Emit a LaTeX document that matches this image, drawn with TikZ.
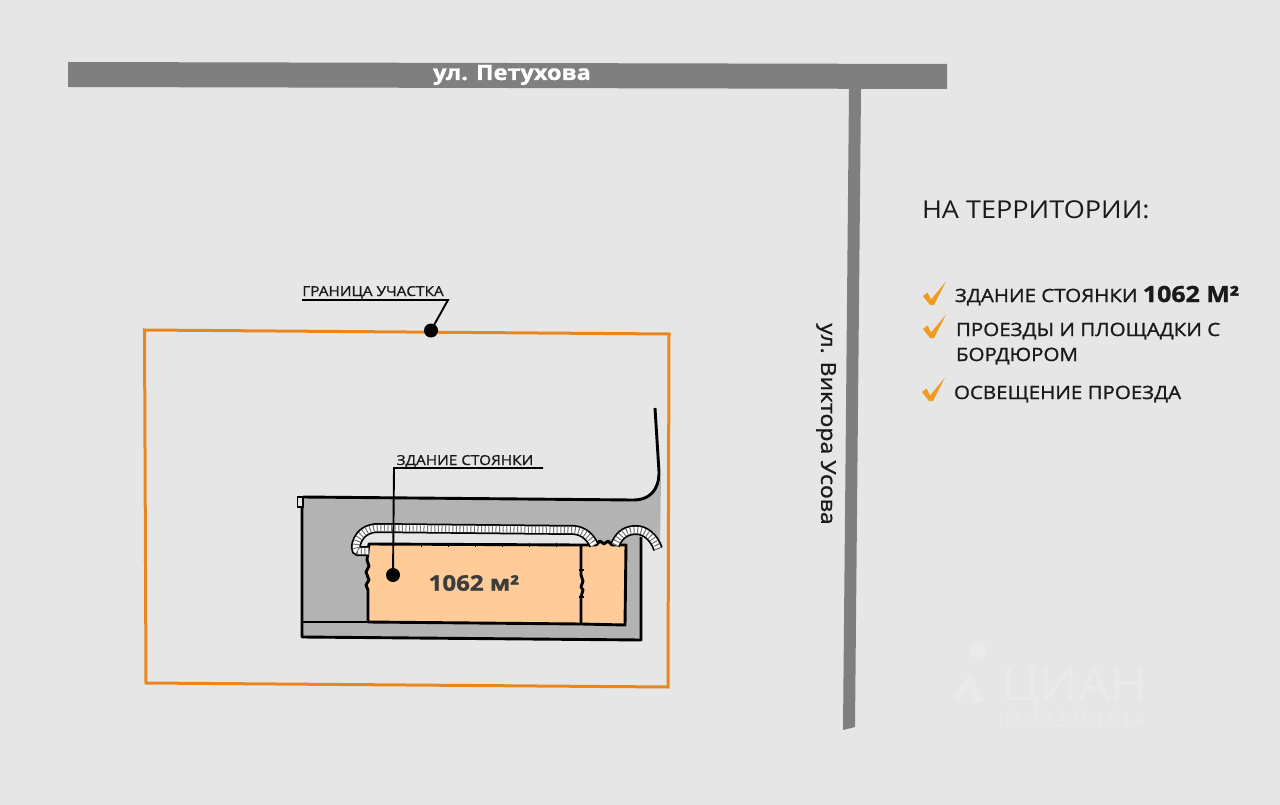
\documentclass[tikz,border=0pt]{standalone}
\usepackage{fontspec}
\setmainfont[FakeStretch=1.1]{Open Sans}
\newfontfamily\medfont[FakeStretch=1.12,FakeBold=1.2]{Open Sans}
\usetikzlibrary{positioning}
\definecolor{bgcol}{HTML}{E6E6E6}
\definecolor{roadcol}{HTML}{7F7F7F}
\definecolor{plotcol}{HTML}{E8871E}
\definecolor{yardcol}{HTML}{B3B3B3}
\definecolor{bldcol}{HTML}{FFCB99}
\definecolor{checkcol}{HTML}{F09A1F}
\definecolor{textcol}{HTML}{1A1A1A}
\definecolor{wmcol}{HTML}{EAEAEA}
\newcommand{\fs}[1]{\fontsize{#1}{#1}\selectfont}
\newcommand{\checkmk}[2]{\fill[checkcol] ([shift={(#1,#2)}]0,0) -- ++(4.5,-3.5) -- ++(3.5,7) -- ++(15,-18) -- ++(-12,23.5) -- ++(-4,0) -- cycle;}
\begin{document}
\begin{tikzpicture}[x=1pt, y=-1pt,
    road/.style={fill=roadcol},
    edge/.style={line width=2.9pt, draw=black, line join=round},
    lead/.style={line width=1.9pt, black},
    dotmark/.style={circle, fill=black, inner sep=0, minimum size=14pt},
    maptext/.style={inner sep=0, outer sep=0, text=textcol, font=\fs{13.7}\medfont},
    listtext/.style={inner sep=0, outer sep=0, anchor=base west, text=textcol, font=\fs{18.3}\medfont},
    kerbout/.style={line width=10pt, black},
    kerbin/.style={line width=6.5pt, white},
    kerbdash/.style={line width=6.5pt, black!55, dash pattern=on 1pt off 2.6pt}]
  \useasboundingbox (0,0) rectangle (1280,805);
  \fill[bgcol] (0,0) rectangle (1280,805);

  % roads
  \fill[road] (68,62) -- (947,64) -- (947,89) -- (68,87) -- cycle;
  \fill[road] (849,89) -- (861,89) -- (855,727) -- (843,730) -- cycle;
  \node[text=white, inner sep=0, font=\fs{21}\medfont\bfseries] (petuh) at (512,75) {ул. Петухова};
  \node[rotate=-90, text=textcol, inner sep=0, font=\fs{20.5}\medfont] (usov) at (826,424) {ул. Виктора Усова};

  % plot boundary
  \draw[line width=3pt, plotcol, line join=miter] (144.5,330) -- (669,334) -- (668,687) -- (146,683) -- cycle;

  % yard
  \fill[yardcol] (302,497) -- (633,500) .. controls (650,499) and (658,490) .. (659,478) -- (661,478) -- (660,547) -- (641,547) -- (641,640) -- (302,637) -- cycle;
  \fill[bgcol] (641,548) -- (641,530) .. controls (650,533) and (655,540) .. (657,548) -- cycle;
  \draw[edge] (302,507) -- (302,637) -- (641,640) -- (641,537);
  \draw[edge] (302,622) -- (368,622);
  \draw[edge] (303,497) -- (633,500) .. controls (650,500) and (659,490) .. (659,472) -- (655,408);
  \filldraw[fill=bgcol, draw=black, line width=1.6pt] (297.5,497) rectangle (303,507);

  % drive inside the kerb
  \fill[bgcol] (356,552) .. controls (356,537) and (364,528) .. (378,528) -- (574,530) .. controls (584,531) and (591,537) .. (594,546) -- (369,546) -- (369,552) -- cycle;

  % building
  \filldraw[fill=bldcol, edge] (369,544) -- (581,545) -- (596,545) -- (600,541) -- (604,544) -- (608,541) -- (612,545) -- (626,545) -- (625,625) -- (581,624) -- (368,622) -- (368,590) -- (366,585) -- (369,580) -- (366,572) -- (369,566) -- (367,560) -- cycle;
  \draw[edge] (581,545) -- (581,575) -- (583,581) -- (581,587) -- (583,590) -- (581,597) -- (581,624);
  \foreach \tx in {421,448,475,502,529,556}
    \draw[line width=1pt, black] (\tx,542.5) -- (\tx,547);
  \foreach \ty in {570,597}
    \draw[line width=1.5pt, black] (578.5,\ty) -- (584,\ty);

  % kerbs
  \def\kerbone{(369,551) -- (358,551) .. controls (353,551) and (356,528) .. (378,528) -- (574,530) .. controls (584,531) and (590,537) .. (594,545)}
  \def\kerbtwo{(615,545) .. controls (620,533) and (628,530) .. (636,530) .. controls (645,530) and (654,537) .. (658,549)}
  \foreach \kerbpath in {\kerbone,\kerbtwo} {
    \draw[kerbout] \kerbpath;
    \draw[kerbin] \kerbpath;
    \draw[kerbdash] \kerbpath;
  }

  % labels on the plan
  \node[maptext, anchor=base] (plotlab) at (373,296) {ГРАНИЦА УЧАСТКА};
  \coordinate (plotl) at (302,300);
  \coordinate (plotr) at (448,300);
  \node[dotmark] (plotdot) at (431,330.5) {};
  \draw[lead] (plotl) -- (plotr) -- (plotdot.center);

  \node[maptext, anchor=base] (bldlab) at (465,465) {ЗДАНИЕ СТОЯНКИ};
  \coordinate (bldl) at (394,468);
  \coordinate (bldr) at (543,468);
  \node[dotmark] (blddot) at (393,575) {};
  \draw[lead] (bldr) -- (bldl) -- (blddot.center);
  \node[text=textcol!85, inner sep=0, font=\fs{21.5}\medfont\bfseries] (area) at (474,583) {1062 м²};

  % list on the right
  \node[listtext, font=\fs{24.6}] (head) at (922,219) {НА ТЕРРИТОРИИ:};
  \node[listtext] (item1) at (955,302) {ЗДАНИЕ СТОЯНКИ \fs{22.3}\bfseries 1062 М²};
  \node[listtext] (item2) at (956,336) {ПРОЕЗДЫ И ПЛОЩАДКИ С};
  \node[listtext] (item2b) at (956,361) {БОРДЮРОМ};
  \node[listtext] (item3) at (954,399) {ОСВЕЩЕНИЕ ПРОЕЗДА};
  \checkmk{923}{296}
  \checkmk{923}{329}
  \checkmk{922}{392}

  % watermark
  \fill[wmcol] (978,650) circle (9pt);
  \fill[wmcol] (952,697) -- (970,673) -- (984,702) -- (976,702) -- (968,688) -- (958,702) -- cycle;
  \node[text=wmcol, inner sep=0, font=\fs{46}] (wm) at (1075,688) {ЦИАН};
  \node[text=wmcol, inner sep=0, font=\fs{21}] (wmid) at (1072,719) {ID 322751514};
\end{tikzpicture}
\end{document}
